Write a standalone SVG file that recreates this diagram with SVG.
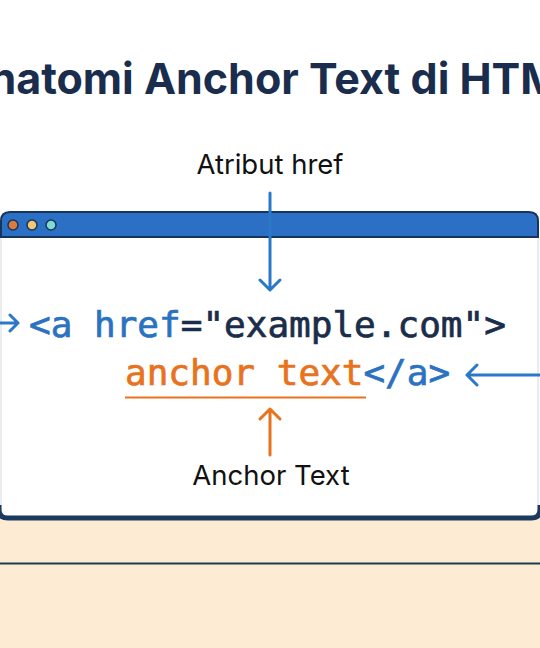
<svg xmlns="http://www.w3.org/2000/svg" width="540" height="648" viewBox="0 0 540 648">
  <defs>
    <style>
      .title { font-family: Inter, "Liberation Sans", sans-serif; font-weight: bold; font-size: 43px; fill: #1a2d4d; }
      .label { font-family: Inter, "Liberation Sans", sans-serif; font-size: 27.5px; fill: #111111; }
      .code { font-family: "DejaVu Sans Mono", "Liberation Mono", monospace; font-size: 36px; stroke-width: 0.7; }
      .blue { fill: #2b72c0; stroke: #2b72c0; }
      .dark { fill: #1a2d4a; stroke: #1a2d4a; }
      .orange { fill: #e8721e; stroke: #e8721e; }
      .arrow-b { stroke: #2b78c8; stroke-width: 3; fill: none; stroke-linecap: round; stroke-linejoin: round; }
      .arrow-o { stroke: #e8721e; stroke-width: 3; fill: none; stroke-linecap: round; stroke-linejoin: round; }
    </style>
  </defs>
  <rect x="0" y="0" width="540" height="648" fill="#ffffff"/>
  <rect x="0" y="505" width="540" height="143" fill="#fdebd4"/>
  <line x1="0" y1="563.5" x2="540" y2="563.5" stroke="#1f3b4c" stroke-width="1.8"/>

  <g id="title">
    <text class="title" x="271" y="94" text-anchor="middle">Anatomi Anchor Text di HTML</text>
  </g>

  <g id="browser-window">
    <rect x="1" y="212" width="537" height="306" rx="9" fill="#ffffff" stroke="#d3d9e0" stroke-width="1"/>
    <path d="M -1 505 L -1 510 Q -1 518 8 518 L 531 518 Q 540 518 540 510 L 540 505" fill="none" stroke="#1b3a5e" stroke-width="5"/>
    <path d="M 1 237 L 1 221 Q 1 212 10 212 L 529 212 Q 538 212 538 221 L 538 237 Z" fill="#2b70c4" stroke="#17355a" stroke-width="2"/>
    <circle cx="13" cy="225" r="5" fill="#e07a3c" stroke="#17355a" stroke-width="1.5"/>
    <circle cx="32" cy="225" r="5" fill="#f2c775" stroke="#17355a" stroke-width="1.5"/>
    <circle cx="51" cy="225" r="5" fill="#82d8d2" stroke="#17355a" stroke-width="1.5"/>
  </g>

  <g id="code">
    <text class="code" x="29" y="337"><tspan class="blue">&lt;a href</tspan><tspan class="dark">="example.com"&gt;</tspan></text>
    <text class="code" x="125" y="385"><tspan class="orange">anchor text</tspan><tspan class="blue">&lt;/a&gt;</tspan></text>
    <line x1="125" y1="397.5" x2="366" y2="397.5" stroke="#e8721e" stroke-width="2.2"/>
  </g>

  <g id="label-href">
    <text class="label" x="270" y="174" text-anchor="middle">Atribut href</text>
  </g>
  <g id="label-anchor">
    <text class="label" x="271" y="485" text-anchor="middle">Anchor Text</text>
  </g>

  <g id="connectors">
    <path class="arrow-b" d="M 270 193 L 270 290 M 260 280 L 270 290 L 280 280"/>
    <path class="arrow-o" d="M 270 455 L 270 409 M 260 419 L 270 409 L 280 419"/>
    <path class="arrow-b" d="M 545 375 L 467 375 M 477 365 L 467 375 L 477 385"/>
    <path class="arrow-b" d="M -5 323 L 18 323 M 10 315 L 18 323 L 10 331"/>
  </g>
</svg>
